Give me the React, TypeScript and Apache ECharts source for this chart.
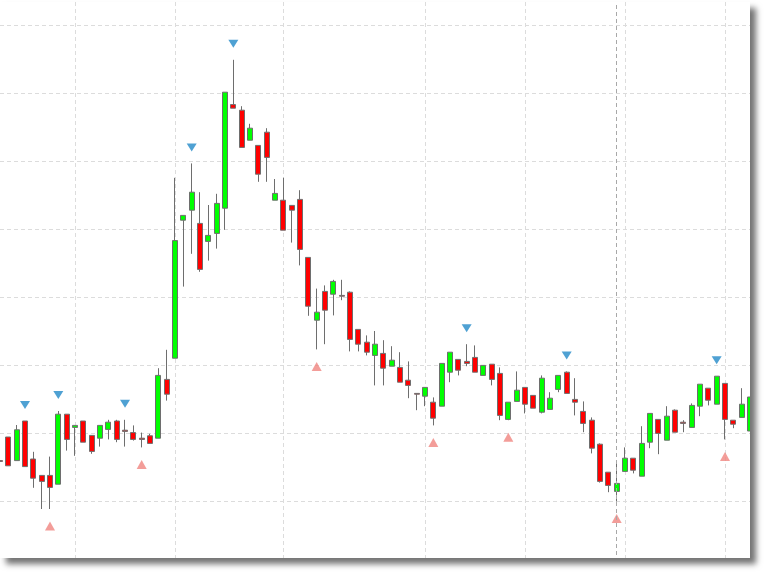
import React, { useEffect, useRef } from "react";
import * as echarts from "echarts";

// one entry per trading session (first and last ones are partly cut off by the frame)
const opens = [27.1, 33.0, 27.1, 37.0, 27.5, 23.4, 23.4, 21.2, 38.7, 35.4, 37.0, 33.4, 32.7, 34.9, 37.0, 34.7, 34.1, 32.7, 33.3, 32.7, 47.4, 52.7, 87.2, 89.7, 86.4, 81.9, 83.9, 90.2, 116.1, 114.7, 107.2, 105.9, 109.2, 92.2, 92.2, 90.9, 92.4, 77.9, 62.2, 69.4, 68.7, 68.4, 69.2, 59.9, 56.7, 53.4, 53.9, 50.7, 50.4, 47.2, 43.9, 43.2, 41.7, 40.7, 49.2, 52.4, 51.9, 52.9, 48.4, 51.2, 48.9, 37.4, 41.9, 45.4, 43.4, 39.2, 39.9, 44.9, 49.2, 42.4, 39.4, 37.2, 31.2, 24.2, 19.4, 24.4, 27.7, 23.2, 31.7, 37.4, 32.2, 39.7, 36.7, 35.4, 40.7, 45.2, 41.2, 46.4, 37.2, 37.9, 34.5];
const closes = [26.9, 25.8, 34.8, 25.6, 22.7, 21.9, 20.4, 38.7, 32.4, 35.9, 31.7, 29.4, 35.9, 36.7, 32.4, 34.4, 32.4, 32.4, 31.4, 48.4, 43.7, 82.1, 88.4, 94.2, 74.9, 83.4, 91.4, 119.2, 115.2, 105.4, 110.2, 98.7, 102.9, 93.9, 84.7, 89.7, 79.9, 65.7, 64.2, 64.7, 71.9, 68.2, 57.4, 56.2, 54.2, 56.2, 50.2, 52.2, 46.7, 45.9, 43.7, 45.4, 37.7, 51.4, 54.2, 49.7, 51.4, 49.2, 50.9, 47.4, 38.4, 41.7, 44.7, 41.2, 40.2, 47.7, 42.7, 48.4, 43.9, 41.7, 36.4, 30.2, 21.9, 20.9, 21.4, 27.7, 24.7, 31.4, 38.9, 33.9, 38.2, 34.2, 36.4, 40.9, 46.2, 42.2, 48.2, 37.4, 36.2, 41.2, 43.0];
const lows = [26.8, 25.8, 27.1, 25.6, 20.3, 15.0, 15.0, 21.2, 29.6, 28.3, 31.7, 28.8, 30.6, 32.4, 31.7, 30.6, 32.1, 30.4, 31.4, 32.7, 42.1, 52.7, 70.6, 78.8, 74.3, 77.1, 80.1, 84.8, 115.2, 105.4, 107.2, 96.8, 96.8, 92.2, 84.7, 81.6, 75.9, 63.3, 54.9, 56.2, 63.4, 67.2, 54.4, 54.4, 53.4, 45.9, 45.9, 50.7, 46.7, 42.7, 39.7, 40.7, 35.9, 40.7, 46.7, 48.4, 50.7, 49.2, 48.4, 45.9, 37.2, 37.2, 41.9, 38.9, 40.2, 38.9, 39.9, 44.2, 43.9, 38.4, 34.2, 28.9, 21.6, 19.2, 16.9, 24.4, 23.9, 23.2, 30.2, 28.7, 32.2, 34.2, 34.2, 35.4, 38.2, 40.9, 41.2, 32.4, 35.2, 37.9, 34.5];
const highs = [27.3, 33.0, 36.0, 37.0, 29.3, 23.4, 28.1, 39.5, 38.7, 35.9, 37.0, 33.4, 35.9, 37.3, 37.3, 37.3, 35.9, 34.1, 33.8, 50.2, 54.8, 97.8, 88.4, 101.4, 94.2, 91.0, 93.8, 119.2, 127.3, 115.7, 111.3, 105.9, 110.2, 97.5, 97.8, 90.9, 94.7, 77.9, 70.1, 70.9, 72.3, 72.3, 69.4, 59.9, 58.4, 59.5, 57.2, 55.7, 54.2, 51.9, 43.9, 45.4, 42.9, 51.4, 54.2, 52.4, 56.2, 55.9, 50.9, 51.2, 50.4, 41.7, 49.4, 45.4, 43.4, 48.4, 44.2, 48.4, 49.4, 47.7, 41.9, 37.9, 31.4, 24.2, 26.8, 30.4, 27.7, 35.7, 38.9, 37.4, 40.7, 39.9, 37.2, 41.4, 46.2, 45.2, 48.2, 46.4, 37.2, 45.2, 43.0];

const categories = opens.map((_, i) => String(i + 1));

// swing markers (session indices)
const peakIdx = [3, 7, 15, 23, 28, 56, 68, 86];
const troughIdx = [6, 17, 38, 52, 61, 74, 87];
// vertical grid lines (period boundaries) and the cursor line
const periodIdx = [9, 21, 34, 51, 63, 75, 87];
const cursorIdx = 74;

// horizontal grid step and value range
const yStep = 17;
const yMax = 141.75;

export default function App() {
  const ref = useRef<HTMLDivElement>(null);

  useEffect(() => {
    if (!ref.current) return;
    const chart = echarts.init(ref.current, undefined, { renderer: "svg" });
    const candles = opens.map((o, i) => [o, closes[i], lows[i], highs[i]]);
    const periodSet = new Set(periodIdx);
    chart.setOption({
      animation: false,
      backgroundColor: "#ffffff",
      grid: { left: -1.1, right: -2.6, top: 0, bottom: 0 },
      xAxis: {
        type: "category",
        data: categories,
        boundaryGap: false,
        axisLine: { show: false },
        axisTick: { show: false },
        axisLabel: { show: false },
        splitLine: {
          show: true,
          interval: (index: number) => periodSet.has(index),
          lineStyle: { color: "#dcdcdc", type: [4, 3], width: 1 },
        },
      },
      yAxis: {
        type: "value",
        min: 0,
        max: yMax,
        interval: yStep,
        axisLine: { show: false },
        axisTick: { show: false },
        axisLabel: { show: false },
        splitLine: {
          show: true,
          showMinLine: false,
          showMaxLine: false,
          lineStyle: { color: "#dcdcdc", type: [4, 3], width: 1 },
        },
      },
      series: [
        {
          type: "candlestick",
          data: candles,
          barWidth: 5.4,
          itemStyle: {
            color: "#00ff00",
            color0: "#ff0000",
            borderColor: "#6e6e6e",
            borderColor0: "#6e6e6e",
            borderColorDoji: "#6e6e6e",
            borderWidth: 1,
          },
          z: 2,
        },
        {
          type: "scatter",
          data: peakIdx.map((k) => [categories[k], highs[k]]),
          symbol: "triangle",
          symbolRotate: 180,
          symbolSize: [10, 8],
          symbolOffset: [0, -16],
          itemStyle: { color: "#2389c8" },
          z: 3,
        },
        {
          type: "scatter",
          data: troughIdx.map((k) => [categories[k], lows[k]]),
          symbol: "triangle",
          symbolSize: [10, 9],
          symbolOffset: [0, 17],
          itemStyle: { color: "#f0857f" },
          z: 3,
          markLine: {
            silent: true,
            symbol: ["none", "none"],
            label: { show: false },
            z: 10,
            lineStyle: { color: "#a8a8a8", type: [4, 3], width: 1 },
            data: [{ xAxis: categories[cursorIdx] }],
          },
        },
      ],
    });
    return () => chart.dispose();
  }, []);

  return (
    <div style={{ position: "fixed", left: 0, top: 0, width: 764, height: 572, background: "#ffffff" }}>
      <div
        style={{
          position: "absolute",
          left: 0,
          top: 2,
          width: 750,
          height: 556,
          background: "#ffffff",
          boxShadow: "6px 6px 6px rgba(0,0,0,0.55)",
        }}
      >
        <div style={{ position: "absolute", left: 0, top: 0, width: 750, height: 556, overflow: "hidden" }}>
          <div ref={ref} style={{ width: 750, height: 567 }} />
        </div>
      </div>
    </div>
  );
}
